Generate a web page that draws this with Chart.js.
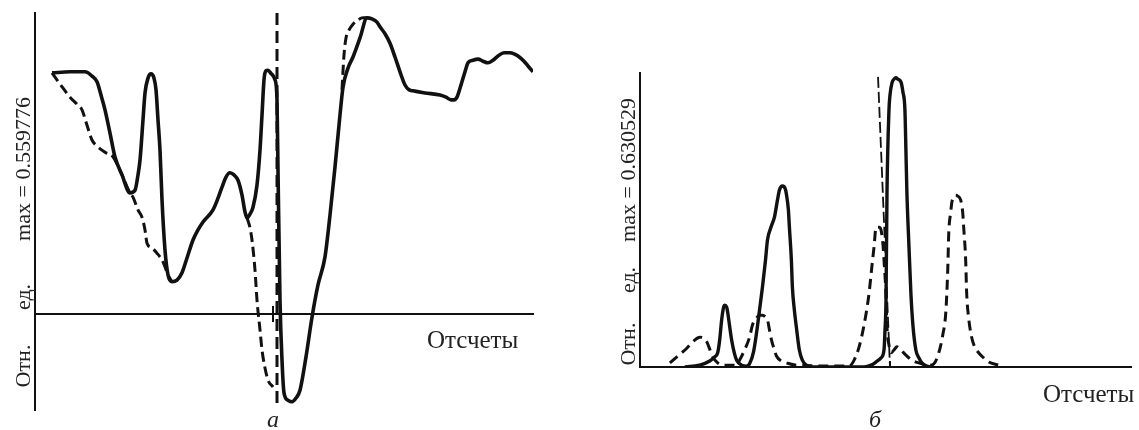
<!DOCTYPE html>
<html>
<head>
<meta charset="utf-8">
<script src="https://cdn.jsdelivr.net/npm/chart.js@4.4.1/dist/chart.umd.min.js"></script>
<style>
  html, body { margin: 0; padding: 0; background: #fff; }
  #wrap { position: relative; width: 1139px; height: 430px; overflow: hidden; background: #fff; }
  canvas { position: absolute; top: 0; }
  #ca { left: 0; }
  #cb { left: 580px; }
  .t { position: absolute; font-family: "Liberation Serif", "DejaVu Serif", serif; color: #222; white-space: nowrap; line-height: 1; }
  .rot { transform: translate(-50%, -50%) rotate(-90deg); font-size: 22px; }
  .xl { font-size: 25px; }
  .pl { font-size: 24px; font-style: italic; transform: translate(-50%, -50%); }
</style>
</head>
<body>
<div id="wrap">
  <canvas id="ca" width="570" height="430"></canvas>
  <canvas id="cb" width="559" height="430"></canvas>
  <div class="t rot" style="left:23px; top:169px;">max = 0.559776</div>
  <div class="t rot" style="left:23px; top:297px;">ед.</div>
  <div class="t rot" style="left:23px; top:366px;">Отн.</div>
  <div class="t xl" style="left:427px; top:327px;">Отсчеты</div>
  <div class="t pl" style="left:273px; top:419px;">а</div>

  <div class="t rot" style="left:628px; top:170px;">max = 0.630529</div>
  <div class="t rot" style="left:628px; top:280px;">ед.</div>
  <div class="t rot" style="left:628px; top:344px;">Отн.</div>
  <div class="t xl" style="left:1043px; top:381px;">Отсчеты</div>
  <div class="t pl" style="left:875px; top:419px;">б</div>
</div>
<script>
// ---------- Panel а (samples, relative units) ----------
const solidA = [
  [17,0.456],[35,0.458],[50,0.458],[57,0.450],[62,0.439],[66,0.414],[70,0.386],[75,0.342],[80,0.297],
  [87,0.263],[95,0.229],[100,0.234],[103,0.263],[105,0.291],[108,0.367],[110,0.418],[113,0.446],[116,0.454],
  [119,0.446],[121,0.424],[123,0.367],[125,0.310],[127,0.216],[130,0.121],[133,0.074],[137,0.061],[142,0.064],
  [147,0.078],[152,0.106],[158,0.140],[163,0.159],[168,0.174],[178,0.197],[183,0.219],[187,0.240],[191,0.259],
  [195,0.267],[199,0.263],[203,0.253],[207,0.225],[210,0.193],[212,0.182],[215,0.189],[218,0.202],[222,0.244],
  [225,0.310],[227,0.376],[229,0.443],[231,0.460],[233,0.461],[236,0.455],[240,0.443],[242,0.405],[243,0.272],
  [245,0.026],[247,-0.087],[249,-0.149],[253,-0.163],[257,-0.166],[261,-0.159],[265,-0.144],[271,-0.081],
  [277,-0.006],[283,0.055],[290,0.108],[295,0.187],[300,0.278],[304,0.357],[308,0.429],[313,0.465],[318,0.486],
  [325,0.522],[332,0.560],[337,0.558],[342,0.552],[345,0.543],[350,0.530],[355,0.512],[360,0.486],[365,0.458],
  [370,0.433],[374,0.424],[378,0.422],[390,0.418],[405,0.414],[411,0.410],[416,0.405],[419,0.405],[422,0.410],
  [426,0.433],[430,0.458],[433,0.475],[438,0.480],[443,0.482],[448,0.478],[453,0.475],[458,0.480],[463,0.488],
  [469,0.494],[475,0.494],[479,0.492],[483,0.488],[489,0.478],[493,0.469],[498,0.458]
];
const dashedA = [
  [17,0.456],[25,0.435],[35,0.410],[42,0.397],[47,0.386],[52,0.357],[57,0.329],[63,0.316],[70,0.306],[78,0.297],
  [87,0.263],[95,0.229],[98,0.221],[103,0.197],[107,0.183],[110,0.159],[112,0.134],[117,0.125],[122,0.115],
  [127,0.102],[130,0.089],[133,0.074],[137,0.061],
  null,
  [212,0.182],[215,0.163],[217,0.140],[220,0.083],[222,0.026],[225,-0.030],[227,-0.068],[230,-0.102],
  [233,-0.125],[238,-0.138],
  null,
  [307,0.424],[309,0.490],[311,0.522],[314,0.537],[318,0.548],[323,0.556],[328,0.560],[332,0.560]
];
const markerA = [[242,0.569],[242,-0.176]];   // vertical reference line
const tickA = [[238,0]];                      // "I" mark on zero line
const rangeA = { xMin: 0, xMax: 498, yMin: -0.1815, yMax: 0.5692 };

// ---------- Panel б ----------
const solidB = [
  [45,0],[53,0.002],[60,0.004],[70,0.013],[75,0.022],[78,0.031],[80,0.059],[82,0.103],[84,0.131],[85,0.135],
  [87,0.131],[88,0.120],[90,0.089],[92,0.059],[95,0.028],[97,0.015],[102,0.004],[107,0.002],[110,0.007],
  [114,0.033],[117,0.074],[120,0.124],[123,0.175],[126,0.233],[128,0.277],[132,0.308],[135,0.327],[138,0.364],
  [140,0.386],[143,0.395],[146,0.388],[147,0.377],[149,0.343],[150,0.305],[152,0.233],[153,0.175],[155,0.124],
  [157,0.087],[160,0.037],[163,0.015],[167,0.004],[172,0],[225,0],[232,0.004],[237,0.011],[242,0.020],
  [245,0.037],[246,0.081],[247,0.146],[248,0.380],[250,0.561],[251,0.593],[253,0.620],[255,0.628],[257,0.631],
  [259,0.628],[262,0.622],[264,0.600],[266,0.561],[267,0.473],[268,0.380],[270,0.266],[272,0.161],[274,0.092],
  [277,0.037],[280,0.020],[283,0.009],[288,0.002],[295,0]
];
const dashedB = [
  [30,0.009],[38,0.024],[47,0.041],[54,0.057],[60,0.065],[64,0.063],[67,0.055],[70,0.039],[73,0.022],[78,0.009],
  [83,0.004],[97,0.004],[100,0.015],[105,0.037],[110,0.065],[113,0.092],[117,0.107],[120,0.113],[123,0.113],
  [126,0.109],[128,0.103],[130,0.081],[132,0.059],[135,0.037],[137,0.024],[142,0.013],[147,0.009],[157,0.004],
  [210,0.002],[215,0.015],[220,0.044],[225,0.092],[230,0.161],[233,0.223],[235,0.262],[237,0.305],[238,0.305],
  [240,0.305],[242,0.299],[244,0.266],[245,0.233],[247,0.157],[248,0.087],[250,0.048],[252,0.031],[255,0.037],
  [258,0.044],[262,0.037],[267,0.026],[273,0.015],[280,0.009],[290,0.004],[295,0.007],[300,0.031],[304,0.070],
  [307,0.118],[309,0.212],[310,0.292],[312,0.338],[313,0.358],[315,0.371],[317,0.375],[319,0.373],[322,0.364],
  [324,0.338],[325,0.305],[327,0.233],[328,0.161],[330,0.107],[333,0.065],[336,0.044],[340,0.031],[345,0.020],
  [350,0.011],[360,0.004]
];
const markerB = [[239,0.633],[251,0]];        // slanted reference line
const tickB = [[251,0]];                      // "+" mark on baseline
const rangeB = { xMin: 0, xMax: 493, yMin: 0, yMax: 0.6415 };

// ---------- helpers ----------
const toXY = arr => arr.map(p => p === null ? {x: null, y: null} : {x: p[0], y: p[1]});
const INK = '#111';

function curve(data, dash, width) {
  return {
    data: toXY(data), borderColor: INK, borderWidth: width, borderDash: dash,
    pointRadius: 0, fill: false, spanGaps: false, cubicInterpolationMode: 'monotone',
    borderCapStyle: 'butt', borderJoinStyle: 'round'
  };
}

function makeChart(id, sets, range, xPos, pad) {
  return new Chart(document.getElementById(id), {
    type: 'line',
    data: { datasets: sets },
    options: {
      responsive: false, animation: false, devicePixelRatio: 1,
      layout: { padding: pad },
      plugins: { legend: { display: false }, tooltip: { enabled: false } },
      scales: {
        x: {
          type: 'linear', min: range.xMin, max: range.xMax, position: xPos,
          ticks: { display: false }, grid: { display: false, drawTicks: false },
          border: { display: true, color: INK, width: 2 }
        },
        y: {
          type: 'linear', min: range.yMin, max: range.yMax,
          ticks: { display: false }, grid: { display: false, drawTicks: false },
          border: { display: true, color: INK, width: 2 }
        }
      }
    }
  });
}

makeChart('ca', [
  curve(solidA, [], 3.6),
  curve(dashedA, [10, 5], 3),
  Object.assign(curve(markerA, [12, 6], 3), { cubicInterpolationMode: 'default', tension: 0 }),
  { data: toXY(tickA), showLine: false, pointStyle: 'line', rotation: 90, pointRadius: 8,
    pointBorderColor: INK, pointBorderWidth: 2 }
], rangeA, { y: 0 }, { left: 35, right: 37, top: 13, bottom: 20 });

makeChart('cb', [
  curve(solidB, [], 3.4),
  curve(dashedB, [10, 6], 3),
  Object.assign(curve(markerB, [11, 4], 1.8), { cubicInterpolationMode: 'default', tension: 0 }),
  { data: toXY(tickB), showLine: false, pointStyle: 'cross', pointRadius: 6,
    pointBorderColor: INK, pointBorderWidth: 2 }
], rangeB, 'bottom', { left: 60, right: 6, top: 73, bottom: 63 });
</script>
</body>
</html>
